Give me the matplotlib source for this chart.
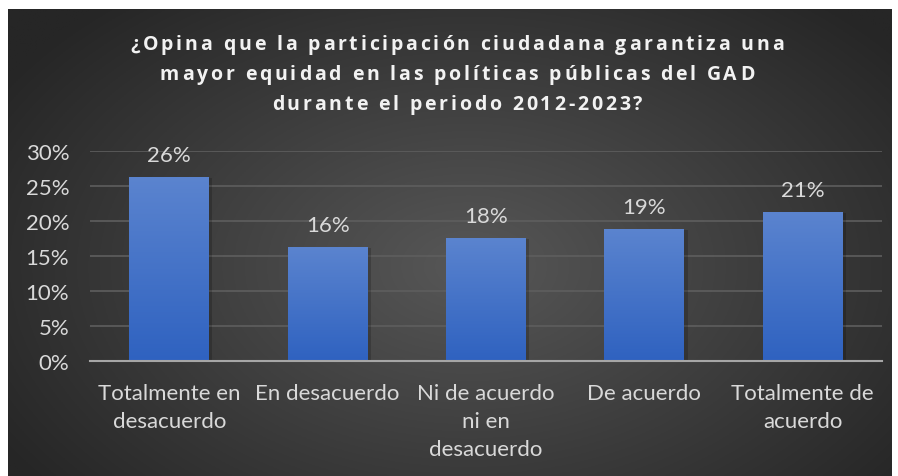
import numpy as np
import matplotlib
matplotlib.use("Agg")
import matplotlib.pyplot as plt
from matplotlib.patches import Rectangle
from matplotlib.colors import LinearSegmentedColormap

title_lines = ["¿Opina que la participación ciudadana garantiza una",
               "mayor equidad en las políticas públicas del GAD",
               "durante el periodo 2012-2023?"]
categories = ["Totalmente en\ndesacuerdo", "En desacuerdo", "Ni de acuerdo\nni en\ndesacuerdo",
              "De acuerdo", "Totalmente de\nacuerdo"]
values = [26.3, 16.3, 17.6, 18.9, 21.3]
yticks = [0, 5, 10, 15, 20, 25, 30]

W, H = 898, 477
fig = plt.figure(figsize=(W / 100, H / 100), dpi=100)
fig.patch.set_facecolor("white")

# background panel with radial gradient
bg = fig.add_axes([8 / W, 0, (892 - 8) / W, (H - 10) / H])
bg.set_axis_off()
ny, nx = 240, 450
yy, xx = np.mgrid[0:ny, 0:nx]
cx, cy = nx * 0.52, ny * 0.55
r = np.sqrt(((xx - cx) / (nx * 0.62)) ** 2 + ((yy - cy) / (ny * 0.75)) ** 2)
r = np.clip(r, 0, 1)
c0 = np.array([0x57, 0x57, 0x57]) / 255
c1 = np.array([0x26, 0x26, 0x26]) / 255
img = c0[None, None, :] * (1 - r[..., None]) + c1[None, None, :] * r[..., None]
bg.imshow(img, aspect="auto", extent=[0, 1, 0, 1], origin="upper")
bg.set_xlim(0, 1)
bg.set_ylim(0, 1)

# main axes
x0, x1 = 90, 882
y0, y1 = 362, 152
ax = fig.add_axes([x0 / W, (H - y0) / H, (x1 - x0) / W, (y0 - y1) / H])
ax.patch.set_alpha(0)
ax.set_xlim(-0.5, len(categories) - 0.5)
ax.set_ylim(0, 30)
ax.set_yticks(yticks)
ax.set_yticklabels([f"{t}%" for t in yticks])
ax.set_xticks(range(len(categories)))
ax.set_xticklabels(categories)
for s in ["top", "right", "left"]:
    ax.spines[s].set_visible(False)
ax.spines["bottom"].set_color("#a6a6a6")
ax.spines["bottom"].set_linewidth(1.5)
ax.spines["bottom"].set_zorder(5)
ax.tick_params(axis="both", length=0, colors="#d9d9d9", labelsize=16)
ax.tick_params(axis="y", pad=15)
ax.tick_params(axis="x", pad=16)
for lbl in ax.get_xticklabels() + ax.get_yticklabels():
    lbl.set_family(["Lato", "DejaVu Sans"])
    lbl.set_linespacing(1.5)
ax.grid(axis="y", color="#5e5e5e", linewidth=1.2)
ax.set_axisbelow(True)

cmap = LinearSegmentedColormap.from_list("bar", ["#2f62c0", "#5b84cf"])
grad = np.linspace(0, 1, 256).reshape(-1, 1)
bw = 0.505
bars = ax.bar(range(len(values)), values, width=bw, color="none", zorder=2)
for b, v in zip(bars, values):
    xl = b.get_x()
    # subtle shadow
    ax.add_patch(Rectangle((xl + 0.02, 0), bw, v - 0.15, color="black", alpha=0.18, zorder=1.5, lw=0))
    im = ax.imshow(grad, cmap=cmap, aspect="auto", extent=[xl, xl + bw, 0, v],
                   origin="lower", zorder=3)
    im.set_clip_path(b)
    ax.text(b.get_x() + bw / 2, v + 1.7, f"{round(v):d}%", ha="center", va="bottom",
            color="#d9d9d9", fontsize=16, family=["Lato", "DejaVu Sans"], zorder=4)
ax.set_xlim(-0.5, len(categories) - 0.5)
ax.set_ylim(0, 30)

# title with letter spacing
fig.canvas.draw()
renderer = fig.canvas.get_renderer()
tfont = dict(fontsize=14, fontweight="bold", color="#f2f2f2", family=["Open Sans", "DejaVu Sans"])
spacing = 2.8  # px between letters
line_y = [45, 75, 105]
center_x = 457
for line, ly in zip(title_lines, line_y):
    widths = []
    for ch in line:
        t = fig.text(0, 0, ch if ch != " " else "a a", **tfont)
        w = t.get_window_extent(renderer).width
        if ch == " ":
            t2 = fig.text(0, 0, "aa", **tfont)
            w = w - t2.get_window_extent(renderer).width
            t2.remove()
        t.remove()
        widths.append(w)
    total = sum(widths) + spacing * (len(line) - 1)
    x = center_x - total / 2
    for ch, w in zip(line, widths):
        if ch != " ":
            fig.text(x / W, 1 - ly / H, ch, ha="left", va="center", **tfont)
        x += w + spacing

fig.savefig("out.png", dpi=100, facecolor="white")
